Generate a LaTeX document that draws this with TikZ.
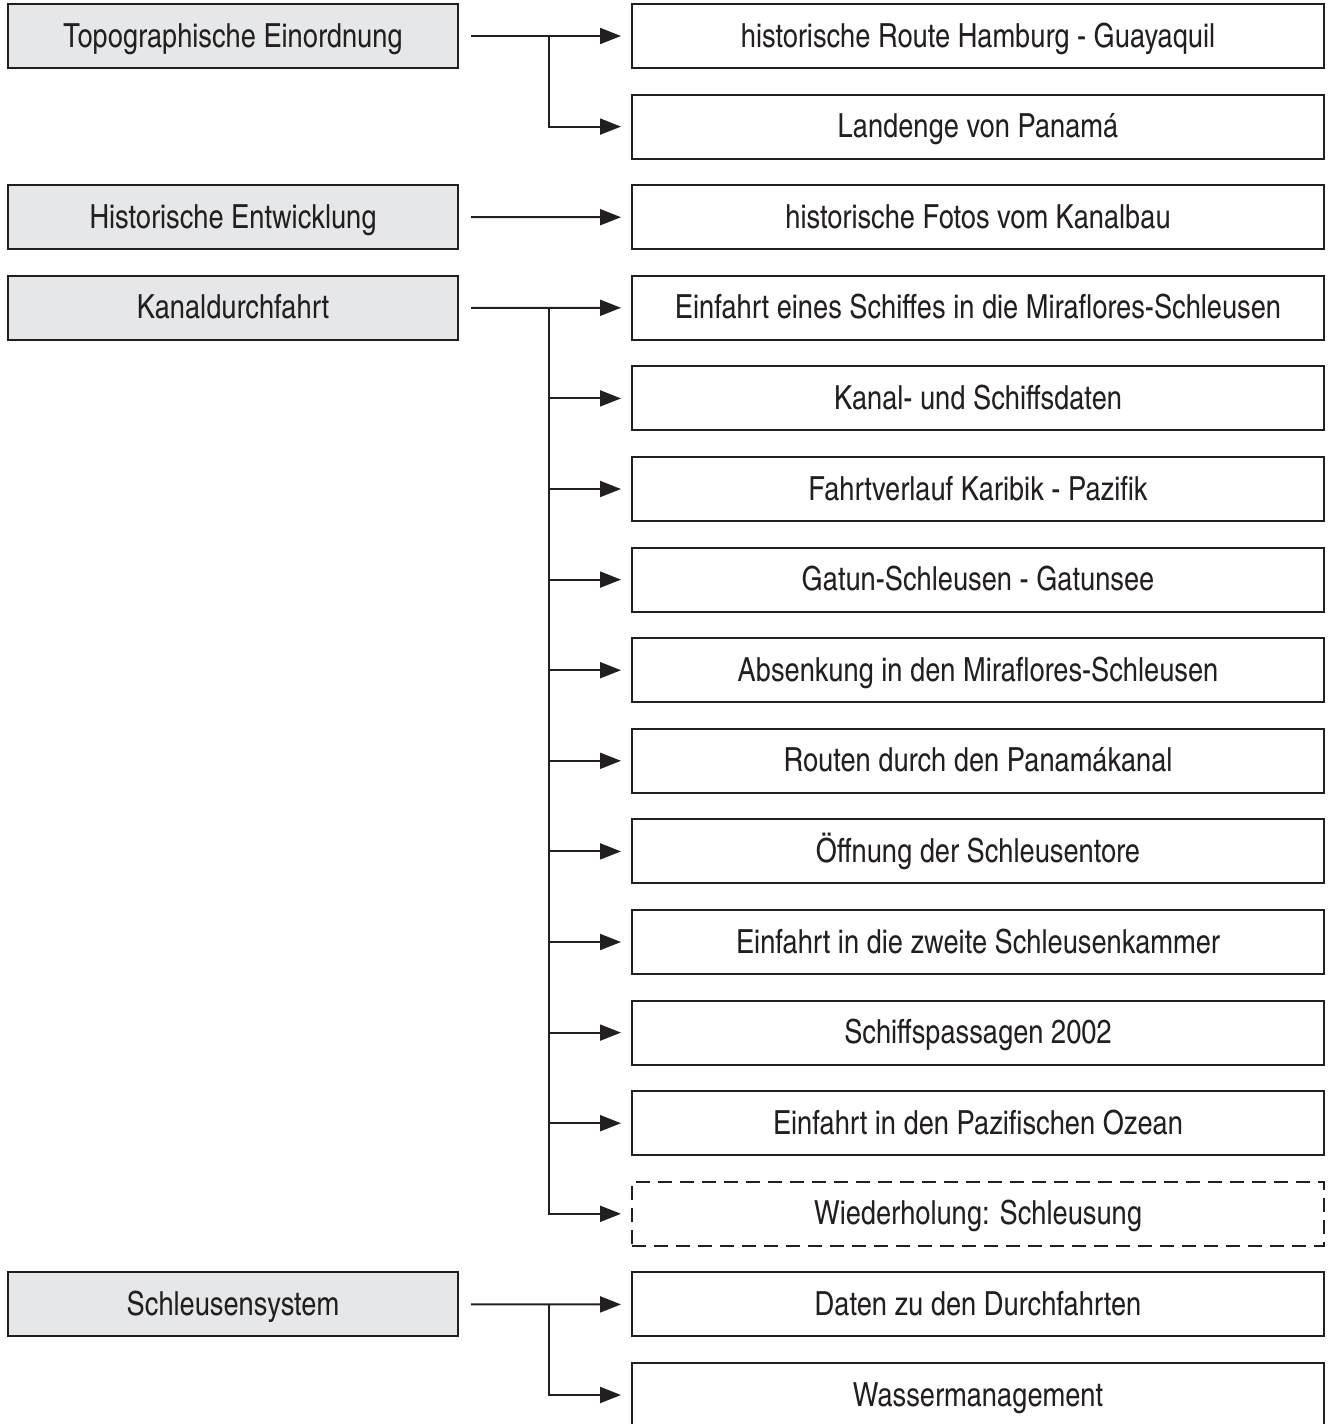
\documentclass[tikz,border=0pt]{standalone}
\usepackage{fontspec}
\setmainfont{texgyreheroscn-regular.otf}
\usetikzlibrary{arrows.meta}
\definecolor{boxgray}{HTML}{E6E7E8}
\definecolor{inkgray}{HTML}{231F20}
\tikzset{
  topic/.style={draw=inkgray, line width=1pt, fill=boxgray, minimum width=225pt,
    minimum height=32pt, inner sep=0pt, text height=14pt, text depth=3pt,
    text=inkgray, font=\fontsize{16.6}{20}\selectfont},
  item/.style={draw=inkgray, line width=1pt, fill=white, minimum width=346pt,
    minimum height=32pt, inner sep=0pt, text height=14pt, text depth=3pt,
    text=inkgray, font=\fontsize{16.6}{20}\selectfont},
  link/.style={draw=inkgray, line width=1pt, -{Triangle[length=10.5pt,width=8pt]},
    shorten <=6pt, shorten >=5pt},
  branch/.style={draw=inkgray, line width=1pt, -{Triangle[length=10.5pt,width=8pt]},
    shorten >=5pt}
}
\begin{document}
\begin{tikzpicture}[x=0.5pt, y=-0.5pt]
                \useasboundingbox (0,0) rectangle (1330,1424);
                % topics on the left
                \node[topic] (topo) at (233,36) {Topographische Einordnung};
                \node[topic] (hist) at (233,217.2) {Historische Entwicklung};
                \node[topic] (kanal) at (233,307.8) {Kanaldurchfahrt};
                \node[topic] (schleus) at (233,1304.4) {Schleusensystem};
                % items on the right
                \foreach \i/\txt in {0/historische Route Hamburg - Guayaquil,
                    1/Landenge von Panamá,
                    2/historische Fotos vom Kanalbau,
                    3/Einfahrt eines Schiffes in die Miraflores-Schleusen,
                    4/Kanal- und Schiffsdaten,
                    5/Fahrtverlauf Karibik - Pazifik,
                    6/Gatun-Schleusen - Gatunsee,
                    7/Absenkung in den Miraflores-Schleusen,
                    8/Routen durch den Panamákanal,
                    9/Öffnung der Schleusentore,
                    10/Einfahrt in die zweite Schleusenkammer,
                    11/Schiffspassagen 2002,
                    12/Einfahrt in den Pazifischen Ozean,
                    14/Daten zu den Durchfahrten,
                    15/Wassermanagement}
                    \node[item] (r\i) at (978,36+90.6*\i) {\txt};
                \node[item, dashed, dash pattern=on 7pt off 4pt] (r13) at (978,36+90.6*13) {Wiederholung: Schleusung};
                % connectors
                \draw[link] (topo) -- (r0);
                \draw[link] (hist) -- (r2);
                \draw[link] (kanal) -- (r3);
                \draw[link] (schleus) -- (r14);
                \path (topo.east) ++(90,0) coordinate (topoknee);
                \path (kanal.east) ++(90,0) coordinate (kanalknee);
                \path (schleus.east) ++(90,0) coordinate (schleusknee);
                \draw[branch] (topoknee) |- (r1);
                \foreach \i in {4,...,13}
                    \draw[branch] (kanalknee) |- (r\i);
                \draw[branch] (schleusknee) |- (r15);
            \end{tikzpicture}
\end{document}
